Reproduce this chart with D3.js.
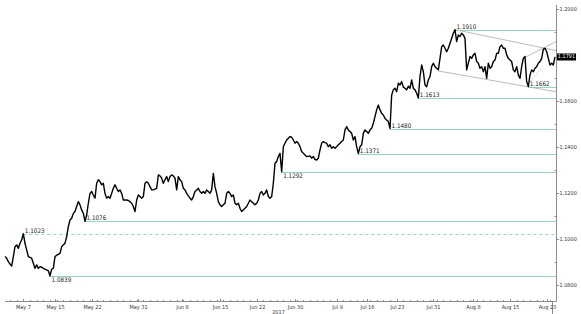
<!DOCTYPE html>
<html>
<head>
<meta charset="utf-8">
<script src="https://cdn.jsdelivr.net/npm/d3@7"></script>
<style>
  html, body { margin: 0; padding: 0; background: #fff; }
  svg { display: block; font-family: Tahoma, "DejaVu Sans Condensed", "DejaVu Sans", sans-serif; }
</style>
</head>
<body>
<div id="chart"></div>
<script>
/* ============================
   DATA (EUR/USD, 6h samples, May -> Aug 2017)
============================ */
const prices = [
  1.0923, 1.0916, 1.0901, 1.0891, 1.0882, 1.0923, 1.0966, 1.0974, 1.0959, 1.0981,
  1.0995, 1.1023, 1.0981, 1.0952, 1.0923, 1.0920, 1.0916, 1.0894, 1.0872, 1.0887,
  1.0872, 1.0879, 1.0877, 1.0872, 1.0868, 1.0865, 1.0861, 1.0839, 1.0868, 1.0872,
  1.0923, 1.0929, 1.0933, 1.0937, 1.0966, 1.0974, 1.0981, 1.1010, 1.1053, 1.1082,
  1.1090, 1.1111, 1.1119, 1.1141, 1.1162, 1.1148, 1.1126, 1.1111, 1.1076, 1.1104,
  1.1155, 1.1198, 1.1206, 1.1191, 1.1177, 1.1242, 1.1257, 1.1249, 1.1235, 1.1242,
  1.1198, 1.1177, 1.1184, 1.1177, 1.1198, 1.1220, 1.1235, 1.1220, 1.1206, 1.1213,
  1.1198, 1.1169, 1.1169, 1.1169, 1.1167, 1.1162, 1.1155, 1.1141, 1.1119, 1.1169,
  1.1191, 1.1184, 1.1177, 1.1184, 1.1242, 1.1249, 1.1242, 1.1227, 1.1213, 1.1213,
  1.1216, 1.1220, 1.1278, 1.1274, 1.1264, 1.1242, 1.1257, 1.1271, 1.1249, 1.1271,
  1.1278, 1.1274, 1.1264, 1.1213, 1.1271, 1.1257, 1.1249, 1.1220, 1.1213, 1.1198,
  1.1187, 1.1177, 1.1169, 1.1184, 1.1206, 1.1213, 1.1220, 1.1206,
  1.1198, 1.1206, 1.1198, 1.1213, 1.1206, 1.1198, 1.1213, 1.1285, 1.1227, 1.1198,
  1.1162, 1.1148, 1.1141, 1.1148, 1.1155, 1.1198, 1.1206, 1.1198, 1.1184, 1.1191,
  1.1155, 1.1148, 1.1155, 1.1133, 1.1119, 1.1126, 1.1133, 1.1141, 1.1155, 1.1169,
  1.1162, 1.1155, 1.1148, 1.1155, 1.1169, 1.1198, 1.1206, 1.1191, 1.1198, 1.1213,
  1.1184, 1.1177, 1.1184, 1.1242, 1.1329, 1.1336, 1.1358, 1.1372, 1.1292,
  1.1401, 1.1416, 1.1430, 1.1438, 1.1445, 1.1442, 1.1430, 1.1416, 1.1423, 1.1416,
  1.1401, 1.1380, 1.1372, 1.1365, 1.1358, 1.1359, 1.1361, 1.1351, 1.1358, 1.1346,
  1.1343, 1.1351, 1.1387, 1.1416, 1.1423, 1.1419, 1.1416, 1.1401, 1.1409, 1.1394,
  1.1401, 1.1394, 1.1401, 1.1409, 1.1416, 1.1423, 1.1430, 1.1474, 1.1488, 1.1474,
  1.1467, 1.1459, 1.1430, 1.1445, 1.1401, 1.1371, 1.1401, 1.1409, 1.1459, 1.1474,
  1.1467, 1.1459, 1.1474, 1.1481, 1.1503, 1.1532, 1.1561, 1.1582, 1.1561, 1.1546,
  1.1539, 1.1524, 1.1517, 1.1510, 1.1480,
  1.1626, 1.1648, 1.1655, 1.1640, 1.1677, 1.1669, 1.1684, 1.1660, 1.1655, 1.1648,
  1.1664, 1.1655, 1.1691, 1.1655, 1.1648, 1.1633, 1.1613, 1.1706, 1.1756, 1.1727,
  1.1669, 1.1662, 1.1691, 1.1706, 1.1749, 1.1764, 1.1749, 1.1742, 1.1735, 1.1785,
  1.1836, 1.1843, 1.1829, 1.1814, 1.1829, 1.1851, 1.1872, 1.1894, 1.1910, 1.1858,
  1.1887, 1.1880, 1.1894, 1.1887, 1.1872, 1.1735, 1.1764, 1.1793, 1.1785, 1.1800,
  1.1807, 1.1771, 1.1764, 1.1742, 1.1749, 1.1727, 1.1749, 1.1698, 1.1764, 1.1742,
  1.1749, 1.1771, 1.1778, 1.1807, 1.1807, 1.1836, 1.1843, 1.1829, 1.1829, 1.1800,
  1.1785, 1.1778, 1.1771, 1.1735, 1.1727, 1.1749, 1.1713, 1.1698, 1.1749, 1.1785,
  1.1793, 1.1684, 1.1662, 1.1713, 1.1735, 1.1727, 1.1742, 1.1749, 1.1764, 1.1771,
  1.1785, 1.1824, 1.1829, 1.1814, 1.1785, 1.1756, 1.1764, 1.1756, 1.1791
];

// x axis: date labels and the bar they sit on
const dateLabels = ["May 7", "May 15", "May 22", "May 31", "Jun 8", "Jun 15", "Jun 22", "Jun 30",
                    "Jul 9", "Jul 16", "Jul 23", "Jul 31", "Aug 8", "Aug 15", "Aug 23"];
const dateBars = [11, 30, 52, 80, 106, 129, 151, 174, 199, 217, 235, 257, 281, 303, 325];
const yearLabel = "2017";

// y axis (1.18 sits under the last-price tag, so it only gets a tick)
const yTicks = [1.08, 1.10, 1.12, 1.14, 1.16, 1.18, 1.20];
const yHiddenLabels = [1.18];
const yMinorTicks = [1.09, 1.11, 1.13, 1.15, 1.17, 1.19];

// support / resistance levels and the bar where each one starts
const levels = [1.1910, 1.1662, 1.1613, 1.1480, 1.1371, 1.1292, 1.1076, 1.1023, 1.0839];
const levelBars = [270, 314, 248, 231, 212, 166, 48, 11, 27];
const dashedLevels = [1.1023];
const labelsBelow = [1.1292, 1.0839];

// channel / trend lines: [[bar, price], [bar, price]]
const trendLines = [
  [[270, 1.1910], [330.6, 1.1819]],
  [[260, 1.1730], [330.6, 1.1640]],
  [[311, 1.1785], [330.6, 1.1858]]
];
const dottedLines = [
  [[314, 1.1675], [322, 1.1742]]
];

const lastPrice = prices[prices.length - 1];

/* ============================
   LAYOUT
============================ */
const W = 581, H = 314;
const axisX = 556, axisY = 301, axisTop = 5, plotLeft = 5;

const svg = d3.select("#chart").append("svg")
  .attr("width", W).attr("height", H);

const x = d3.scaleLinear().domain([0, prices.length - 1]).range([plotLeft, 555]);
const y = d3.scaleLinear().domain([1.0730, 1.2017]).range([axisY, axisTop]);

const levelColor = "#95d6bd";
const trendColor = "#a9a9a9";
const axisColor = "#8c8c8c";
const fmt4 = d3.format(".4f");

/* ============================
   LEVELS
============================ */
const lv = svg.append("g");
levels.forEach((v, i) => {
  const x0 = x(levelBars[i]);
  const yy = Math.round(y(v)) + 0.5;
  lv.append("line")
    .attr("x1", x0).attr("x2", axisX)
    .attr("y1", yy).attr("y2", yy)
    .attr("stroke", levelColor)
    .attr("stroke-width", 1)
    .attr("stroke-dasharray", dashedLevels.includes(v) ? "3,3" : null);
});

/* ============================
   TREND LINES
============================ */
const tl = svg.append("g");
trendLines.forEach(seg => {
  tl.append("line")
    .attr("x1", x(seg[0][0])).attr("y1", y(seg[0][1]))
    .attr("x2", x(seg[1][0])).attr("y2", y(seg[1][1]))
    .attr("stroke", trendColor).attr("stroke-width", 0.8);
});
dottedLines.forEach(seg => {
  tl.append("line")
    .attr("x1", x(seg[0][0])).attr("y1", y(seg[0][1]))
    .attr("x2", x(seg[1][0])).attr("y2", y(seg[1][1]))
    .attr("stroke", trendColor).attr("stroke-width", 0.8)
    .attr("stroke-dasharray", "1.5,1.5");
});

/* ============================
   PRICE LINE
============================ */
const line = d3.line().x((d, i) => x(i)).y(d => y(d));
svg.append("path")
  .datum(prices)
  .attr("d", line)
  .attr("fill", "none")
  .attr("stroke", "#000")
  .attr("stroke-width", 1.4)
  .attr("stroke-linejoin", "round");

/* level labels on top */
levels.forEach((v, i) => {
  const x0 = x(levelBars[i]);
  const yy = y(v);
  svg.append("text")
    .attr("x", x0 + 1.5)
    .attr("y", labelsBelow.includes(v) ? yy + 6 : yy - 1)
    .attr("font-size", 6.3)
    .attr("fill", "#222")
    .text(fmt4(v));
});

/* ============================
   AXES
============================ */
const ax = svg.append("g").attr("stroke", axisColor).attr("stroke-width", 1);

// right axis
ax.append("line").attr("x1", axisX + 0.5).attr("x2", axisX + 0.5).attr("y1", axisTop).attr("y2", axisY + 0.5);
yTicks.forEach(v => {
  const yy = Math.round(y(v)) + 0.5;
  ax.append("line").attr("x1", axisX + 0.5).attr("x2", axisX + 3).attr("y1", yy).attr("y2", yy);
  if (yHiddenLabels.includes(v)) return;
  svg.append("text")
    .attr("x", axisX + 3.5).attr("y", yy)
    .attr("dominant-baseline", "middle")
    .attr("font-size", 5.5).attr("fill", "#333")
    .text(fmt4(v));
});
yMinorTicks.forEach(v => {
  const yy = Math.round(y(v)) + 0.5;
  ax.append("line").attr("x1", axisX - 1.5).attr("x2", axisX + 0.5).attr("y1", yy).attr("y2", yy);
});

// bottom axis
ax.append("line").attr("x1", plotLeft).attr("x2", axisX + 0.5).attr("y1", axisY + 0.5).attr("y2", axisY + 0.5);
d3.range(3, prices.length, 4).forEach(b => {
  const xx = Math.round(x(b)) + 0.5;
  ax.append("line").attr("x1", xx).attr("x2", xx).attr("y1", axisY - 1).attr("y2", axisY + 0.5);
});
dateBars.forEach((b, i) => {
  const xx = Math.round(x(b)) + 0.5;
  ax.append("line").attr("x1", xx).attr("x2", xx).attr("y1", axisY - 2).attr("y2", axisY + 0.5);
  svg.append("text")
    .attr("x", xx).attr("y", axisY + 8)
    .attr("text-anchor", "middle")
    .attr("font-size", 5.5).attr("fill", "#333")
    .text(dateLabels[i]);
});
// year range end marker + label
ax.append("line").attr("x1", 552.5).attr("x2", 552.5).attr("y1", axisY).attr("y2", H);
svg.append("text")
  .attr("x", (plotLeft + 552) / 2).attr("y", axisY + 12.5)
  .attr("text-anchor", "middle")
  .attr("font-size", 5.5).attr("fill", "#333")
  .text(yearLabel);

/* current price tag */
const ly = y(lastPrice);
svg.append("rect")
  .attr("x", axisX + 1).attr("y", ly - 3.5)
  .attr("width", 19).attr("height", 7)
  .attr("fill", "#000");
svg.append("text")
  .attr("x", axisX + 10.5).attr("y", ly)
  .attr("text-anchor", "middle").attr("dominant-baseline", "middle")
  .attr("font-size", 5.5).attr("fill", "#fff")
  .text(fmt4(lastPrice));
</script>
</body>
</html>
